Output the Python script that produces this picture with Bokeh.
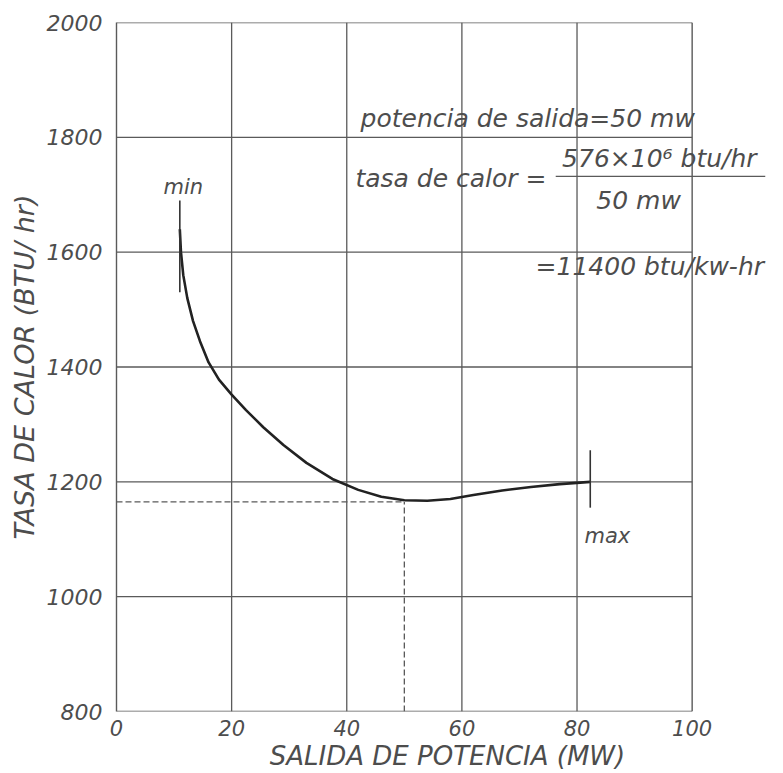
from bokeh.plotting import figure
from bokeh.models import Label, Range1d, FixedTicker
from bokeh.embed import file_html
from bokeh.resources import INLINE

# --- data ---
curve_x = [11.0, 11.2, 11.6, 12.3, 13.3, 14.5, 16.0, 17.8, 20.0, 22.5, 25.5, 29.0,
           33.0, 37.5, 42.0, 46.0, 50.0, 54.0, 58.0, 62.0, 67.0, 72.0, 77.0, 82.3]
curve_y = [1640, 1600, 1560, 1520, 1480, 1445, 1408, 1378, 1352, 1325, 1295, 1264,
           1233, 1205, 1186, 1174, 1168, 1167, 1170, 1177, 1185, 1191, 1196, 1200]

x_ticks = [0, 20, 40, 60, 80, 100]
y_ticks = [800, 1000, 1200, 1400, 1600, 1800, 2000]

min_marker_x = [11.0, 11.0]
min_marker_y = [1530, 1690]
max_marker_x = [82.3, 82.3]
max_marker_y = [1155, 1255]

design_x = 50
design_y = 1165

X_MIN, X_MAX = 0, 100
Y_MIN, Y_MAX = 800, 2000

FONT = "DejaVu Sans"
TXT = "#4d4d4d"
GRID = "#5a5a5a"

# x range extends past 100 so that the annotation text can run past the frame box
p = figure(width=783, height=773, output_backend="svg", toolbar_location=None,
           x_range=Range1d(0, 115), y_range=Range1d(Y_MIN, Y_MAX),
           min_border_left=116, min_border_right=5, min_border_top=22,
           min_border_bottom=61)
p.background_fill_color = "white"
p.border_fill_color = "white"
p.outline_line_color = None
p.grid.visible = False

for ax in (p.xaxis[0], p.yaxis[0]):
    ax.major_tick_in = 0
    ax.major_tick_out = 0
    ax.minor_tick_line_color = None
    ax.major_label_text_font = FONT
    ax.major_label_text_font_style = "italic"
    ax.major_label_text_color = TXT
    ax.axis_label_text_font = FONT
    ax.axis_label_text_font_style = "italic"
    ax.axis_label_text_color = TXT

p.xaxis.axis_line_color = None
p.yaxis.axis_line_color = GRID
p.yaxis.axis_line_width = 1.4
p.xaxis.major_label_text_font_size = "21px"
p.yaxis.major_label_text_font_size = "22px"
p.xaxis.axis_label_text_font_size = "26px"
p.yaxis.axis_label_text_font_size = "27px"

p.xaxis.ticker = FixedTicker(ticks=x_ticks)
p.yaxis.ticker = FixedTicker(ticks=y_ticks)
p.xaxis.axis_label = "SALIDA DE POTENCIA (MW)"
p.yaxis.axis_label = "TASA DE CALOR (BTU/ hr)"
p.xaxis.major_label_standoff = 8
p.yaxis.major_label_standoff = 14
p.xaxis.axis_label_standoff = 2
p.yaxis.axis_label_standoff = 4

# grid and box, limited to 0..100
inner_x = x_ticks[1:-1]
inner_y = y_ticks[1:-1]
p.segment(x0=inner_x, y0=[Y_MIN] * len(inner_x), x1=inner_x, y1=[Y_MAX] * len(inner_x),
          line_color=GRID, line_width=1.3)
p.segment(x0=[X_MIN] * len(inner_y), y0=inner_y, x1=[X_MAX] * len(inner_y), y1=inner_y,
          line_color=GRID, line_width=1.3)
p.segment(x0=[X_MIN, X_MIN, X_MAX], y0=[Y_MIN, Y_MAX, Y_MIN],
          x1=[X_MAX, X_MAX, X_MAX], y1=[Y_MIN, Y_MAX, Y_MAX],
          line_color=GRID, line_width=1.4)

# dashed design lines
p.line([0, design_x], [design_y, design_y], line_color=GRID, line_width=1.3, line_dash="6 3")
p.line([design_x, design_x], [Y_MIN, design_y], line_color=GRID, line_width=1.3, line_dash="6 3")

# curve
p.line(curve_x, curve_y, line_color="#222222", line_width=2.6, line_join="round")

# min / max markers
p.line(min_marker_x, min_marker_y, line_color="#333333", line_width=1.6)
p.line(max_marker_x, max_marker_y, line_color="#333333", line_width=1.6)

def lab(x, y, t, size="24px", align="left", base="middle"):
    p.add_layout(Label(x=x, y=y, text=t, text_font=FONT, text_font_style="italic",
                       text_color=TXT, text_font_size=size, text_align=align,
                       text_baseline=base))

lab(11.6, 1714, "min", "21px", "center")
lab(81.3, 1106, "max", "21px", "left")

lab(42.4, 1833, "potencia de salida=50 mw", "25px")
lab(41.5, 1728, "tasa de calor =", "25px")
lab(94.3, 1763, "576\u00d710\u2076 btu/hr", "25px", "center")
p.line([76.3, 112.7], [1732, 1732], line_color=GRID, line_width=1.4)
lab(90.7, 1690, "50 mw", "25px", "center")
lab(72.8, 1575, "=11400 btu/kw-hr", "25px")

open("out.html", "w").write(file_html(p, INLINE))
